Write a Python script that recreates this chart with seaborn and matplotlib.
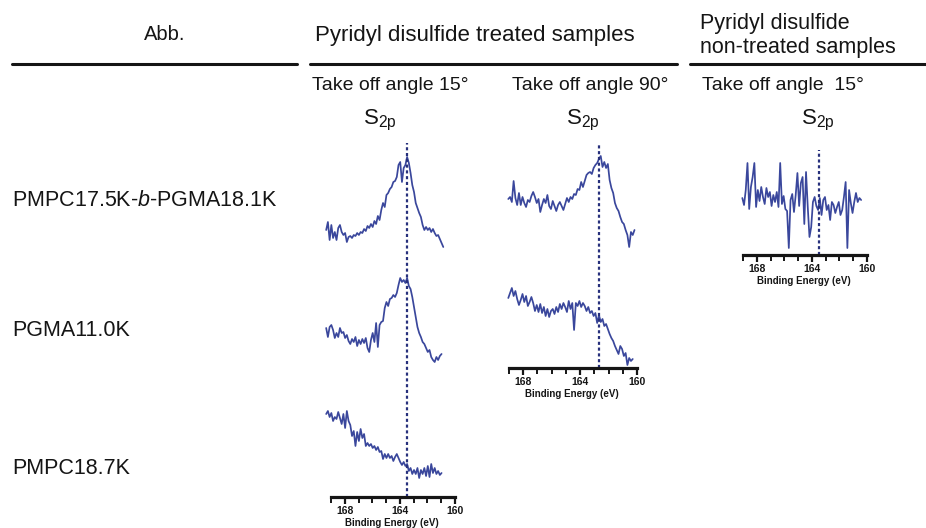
import numpy as np
import matplotlib
matplotlib.use("Agg")
import matplotlib.pyplot as plt
from matplotlib.lines import Line2D
from matplotlib.ticker import FixedLocator
import seaborn as sns

# ---------------------------------------------------------------- data
# XPS S2p scans: binding energy starts (eV), fixed 0.125 eV step, intensities in a.u.
STEP = 0.125

# pyridyl disulfide treated, take-off angle 15 deg
be_start_t15 = [169.35, 169.35, 169.35]
s2p_t15_block = [20, 28, 10, 25, 12, 18, 10, 22, 25, 18, 15, 17, 8, 13, 14, 12, 15, 14, 17, 15,
                 18, 17, 21, 19, 24, 22, 26, 23, 29, 26, 34, 30, 40, 47, 43, 55, 57, 61, 63, 68,
                 69, 73, 85, 88, 68, 82, 85, 93, 87, 77, 65, 58, 47, 42, 37, 33, 25, 20, 23, 20,
                 22, 18, 21, 17, 14, 15, 11, 7, 3]
s2p_t15_pgma = [37, 28, 38, 40, 35, 27, 32, 28, 37, 32, 33, 27, 30, 24, 21, 26, 23, 28, 19, 25,
                21, 26, 22, 27, 17, 13, 25, 32, 23, 42, 18, 40, 43, 44, 57, 63, 59, 66, 67, 70,
                68, 72, 80, 87, 83, 85, 82, 87, 79, 76, 68, 58, 48, 38, 32, 28, 23, 21, 17, 13,
                15, 8, 5, 3, 8, 5, 9, 11]
s2p_t15_pmpc = [61, 64, 58, 62, 54, 58, 56, 63, 57, 51, 61, 47, 64, 54, 50, 39, 44, 29, 43, 34,
                46, 37, 41, 29, 32, 29, 31, 27, 29, 25, 28, 23, 24, 16, 21, 17, 21, 17, 19, 14,
                18, 21, 17, 13, 10, 13, 9, 11, 4, 7, 1, 5, 1, 7, -3, 5, 1, 7, -1, 9,
                -2, 11, 2, 7, 1, 4, 0, 2]
peak_t15 = 163.5

# pyridyl disulfide treated, take-off angle 90 deg
be_start_t90 = [169.05, 169.05]
s2p_t90_block = [46, 48, 43, 64, 47, 40, 52, 40, 48, 42, 38, 45, 43, 49, 53, 48, 42, 46, 33, 40,
                 46, 42, 50, 39, 36, 44, 39, 34, 40, 43, 39, 35, 41, 47, 43, 48, 46, 51, 50, 56,
                 55, 63, 58, 64, 70, 72, 73, 71, 77, 80, 82, 86, 89, 78, 83, 77, 81, 65, 57, 52,
                 42, 37, 34, 28, 23, 21, 15, 10, -2, 13, 10, 15]
s2p_t90_pgma = [72, 77, 82, 74, 79, 71, 65, 70, 76, 68, 74, 64, 68, 73, 67, 59, 65, 58, 66, 57,
                63, 54, 61, 53, 59, 61, 56, 63, 58, 66, 61, 67, 63, 58, 69, 61, 67, 40, 67, 64,
                69, 63, 67, 64, 59, 63, 57, 59, 54, 57, 47, 55, 48, 51, 44, 46, 41, 36, 32, 29,
                24, 20, 16, 24, 21, 14, 17, 5, 12, 9, 11]
peak_t90 = 162.7

# pyridyl disulfide non-treated, take-off angle 15 deg
be_start_nt15 = [169.05]
s2p_nt15_block = [52, 45, 60, 87, 41, 63, 73, 87, 43, 60, 49, 63, 53, 46, 62, 53, 58, 44, 55, 48,
                  58, 43, 87, 46, 54, 41, 39, 2, 50, 56, 38, 55, 77, 44, 67, 73, 26, 78, 43, 13,
                  23, 48, 53, 44, 40, 52, 35, 50, 53, 40, 45, 30, 48, 45, 37, 43, 48, 35, 40, 53,
                  68, 2, 60, 47, 37, 48, 57, 48, 52, 50]
peak_nt15 = 163.5

be_ticks = [168, 164, 160]
be_minor = [160, 161, 162, 163, 164, 165, 166, 167, 168, 169]
samples = ["PMPC17.5K-$\\it{b}$-PGMA18.1K", "PGMA11.0K", "PMPC18.7K"]
angle_titles = ["Take off angle 15°", "Take off angle 90°", "Take off angle  15°"]

# ---------------------------------------------------------------- style
sns.set_theme(style="white")
plt.rcParams["font.family"] = ["Liberation Sans", "DejaVu Sans"]
plt.rcParams["mathtext.fontset"] = "custom"
plt.rcParams["mathtext.rm"] = "Liberation Sans"
plt.rcParams["mathtext.it"] = "Liberation Sans:italic"
plt.rcParams["mathtext.bf"] = "Liberation Sans:bold"
plt.rcParams["mathtext.default"] = "regular"

W, H = 926, 528
fig = plt.figure(figsize=(W / 100, H / 100), dpi=100)
fig.patch.set_facecolor("white")

INK = "#151515"
TRACE = "#3a479c"
GUIDE = "#27307c"


def fx(px):
    return px / W


def fy(py):
    return 1 - py / H


def panel(x169, x160, y_axis, y_top, lo=169.55, hi=159.6):
    ppe = (x160 - x169) / 9.0
    left = x169 + (169 - lo) * ppe
    right = x169 + (169 - hi) * ppe
    ax = fig.add_axes([fx(left), fy(y_axis), (right - left) / W, (y_axis - y_top) / H])
    ax.set_facecolor("none")
    ax.set_xlim(lo, hi)
    ax.set_ylim(0, y_axis - y_top)
    for s in ("left", "right", "top"):
        ax.spines[s].set_visible(False)
    ax.spines["bottom"].set_bounds(160, 169)
    ax.spines["bottom"].set_linewidth(2.3)
    ax.spines["bottom"].set_color(INK)
    ax.set_yticks([])
    ax.xaxis.set_major_locator(FixedLocator(be_ticks))
    ax.xaxis.set_minor_locator(FixedLocator(be_minor))
    ax.set_xticklabels([str(t) for t in be_ticks], fontweight="bold")
    ax.tick_params(axis="x", which="major", bottom=True, direction="out", length=5,
                   width=1.6, color=INK, labelsize=7.5, pad=1.5, labelcolor=INK)
    ax.tick_params(axis="x", which="minor", bottom=True, direction="out", length=4,
                   width=1.4, color=INK)
    ax.set_xlabel("Binding Energy (eV)", fontsize=7, fontweight="bold", labelpad=1.5,
                  color=INK)
    ax.grid(False)
    return ax


def trace(ax, start, values, offset):
    be = start - STEP * np.arange(len(values))
    sns.lineplot(x=be, y=np.asarray(values, dtype=float) + offset, ax=ax, color=TRACE,
                 lw=1.25, estimator=None, sort=False, legend=False)


DASH = (0, (1.4, 1.2))

# column 1: treated, 15 deg (three samples)
ax1 = panel(331, 455, 497, 143)
for start, vals, off in zip(be_start_t15, [s2p_t15_block, s2p_t15_pgma, s2p_t15_pmpc],
                            [247, 132, 22]):
    trace(ax1, start, vals, off)
ax1.axvline(peak_t15, color=GUIDE, lw=1.6, linestyle=DASH)

# column 2: treated, 90 deg (two samples)
ax2 = panel(509, 637, 368, 143)
for start, vals, off in zip(be_start_t90, [s2p_t90_block, s2p_t90_pgma], [123, -2]):
    trace(ax2, start, vals, off)
ax2.axvline(peak_t90, color=GUIDE, lw=1.6, linestyle=DASH)

# column 3: non-treated, 15 deg (block copolymer only)
ax3 = panel(743, 867, 255, 150)
trace(ax3, be_start_nt15[0], s2p_nt15_block, 5)
ax3.axvline(peak_nt15, color=GUIDE, lw=1.6, linestyle=DASH)

# ---------------------------------------------------------------- table header
fig.text(fx(165), fy(35), "Abb.", ha="center", va="center", fontsize=14.5, color=INK)
fig.text(fx(475), fy(35), "Pyridyl disulfide treated samples", ha="center", va="center",
         fontsize=16, color=INK)
fig.text(fx(700), fy(24), "Pyridyl disulfide", ha="left", va="center", fontsize=15.5,
         color=INK)
fig.text(fx(700), fy(47), "non-treated samples", ha="left", va="center", fontsize=15.5,
         color=INK)

for x0, x1 in [(12, 297), (310, 677), (690, 926)]:
    fig.add_artist(Line2D([fx(x0), fx(x1)], [fy(64), fy(64)], transform=fig.transFigure,
                          color=INK, lw=2.2))

fig.text(fx(312), fy(85), angle_titles[0], ha="left", va="center", fontsize=14, color=INK)
fig.text(fx(668), fy(85), angle_titles[1], ha="right", va="center", fontsize=14, color=INK)
fig.text(fx(702), fy(85), angle_titles[2], ha="left", va="center", fontsize=14, color=INK)

for cx in (380, 583, 818):
    fig.text(fx(cx), fy(120), "S$_{2p}$", ha="center", va="center", fontsize=16, color=INK)

for label, y in zip(samples, (200, 330, 468)):
    fig.text(fx(12), fy(y), label, ha="left", va="center", fontsize=15.5, color=INK)

fig.savefig("out.png", dpi=100, facecolor="white")
